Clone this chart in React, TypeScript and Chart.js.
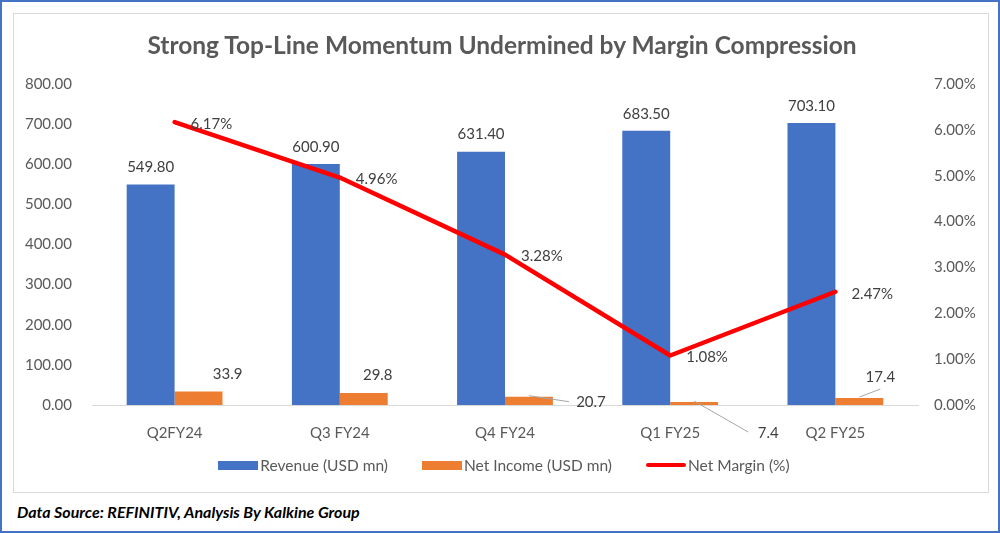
import React, { useEffect, useRef } from 'react';
import { Chart, registerables } from 'chart.js';

Chart.register(...registerables);

const categories = ['Q2FY24', 'Q3 FY24', 'Q4 FY24', 'Q1 FY25', 'Q2 FY25'];
const revenue = [549.8, 600.9, 631.4, 683.5, 703.1];
const netIncome = [33.9, 29.8, 20.7, 7.4, 17.4];
const netMargin = [6.17, 4.96, 3.28, 1.08, 2.47];

const leftMax = 800;
const leftStep = 100;
const rightMax = 7;
const rightStep = 1;

const titleText = 'Strong Top-Line Momentum Undermined by Margin Compression';
const footerText = 'Data Source: REFINITIV, Analysis By Kalkine Group';
const seriesNames = ['Revenue (USD mn)', 'Net Income (USD mn)', 'Net Margin (%)'];

// label placement for net income labels (offset of label centre from bar top centre, optional leader end relative to label centre)
const niLabelPlacement = [
  { dx: 29, dy: -17, leader: null as null | [number, number] },
  { dx: 14, dy: -18, leader: null as null | [number, number] },
  { dx: 62, dy: 5, leader: [-22, 0] as [number, number] },
  { dx: 74, dy: 31, leader: [-20, -1] as [number, number] },
  { dx: 21, dy: -21, leader: [0, 12] as [number, number] },
];

const FONT = 'Lato, "Open Sans", "Noto Sans", sans-serif';
const BLUE = '#4472C4';
const ORANGE = '#ED7D31';
const RED = '#FF0000';
const AXIS_TEXT = '#595959';
const LABEL_TEXT = '#404040';

const labelPlugin = {
  id: 'valueLabels',
  afterDatasetsDraw(chart: any) {
    const ctx = chart.ctx;
    ctx.save();
    ctx.font = `15px ${FONT}`;
    ctx.fillStyle = LABEL_TEXT;
    ctx.textAlign = 'center';
    ctx.textBaseline = 'middle';

    const revMeta = chart.getDatasetMeta(0);
    revMeta.data.forEach((el: any, i: number) => {
      ctx.fillText(revenue[i].toFixed(2), el.x, el.y - 17);
    });

    const niMeta = chart.getDatasetMeta(1);
    niMeta.data.forEach((el: any, i: number) => {
      const p = niLabelPlacement[i];
      const lx = el.x + p.dx;
      const ly = el.y + p.dy;
      if (p.leader) {
        ctx.strokeStyle = '#A6A6A6';
        ctx.lineWidth = 1;
        ctx.beginPath();
        ctx.moveTo(el.x, el.y - 1);
        ctx.lineTo(lx + p.leader[0], ly + p.leader[1]);
        ctx.stroke();
      }
      ctx.fillText(netIncome[i].toFixed(1), lx, ly);
    });

    const nmMeta = chart.getDatasetMeta(2);
    ctx.textAlign = 'left';
    nmMeta.data.forEach((el: any, i: number) => {
      ctx.fillText(netMargin[i].toFixed(2) + '%', el.x + 16, el.y + 2);
    });
    ctx.restore();
  },
};

function ChartCanvas() {
  const ref = useRef<HTMLCanvasElement | null>(null);
  useEffect(() => {
    if (!ref.current) return;
    const tickFont = { family: FONT, size: 15 };
    const chart = new Chart(ref.current, {
      type: 'bar',
      data: {
        labels: categories,
        datasets: [
          {
            type: 'bar',
            label: seriesNames[0],
            data: revenue,
            backgroundColor: BLUE,
            yAxisID: 'y',
            order: 2,
            categoryPercentage: 0.58,
            barPercentage: 1,
          },
          {
            type: 'bar',
            label: seriesNames[1],
            data: netIncome,
            backgroundColor: ORANGE,
            yAxisID: 'y',
            order: 2,
            categoryPercentage: 0.58,
            barPercentage: 1,
          },
          {
            type: 'line',
            label: seriesNames[2],
            data: netMargin,
            borderColor: RED,
            backgroundColor: RED,
            borderWidth: 4.5,
            pointRadius: 0,
            tension: 0,
            borderCapStyle: 'round',
            borderJoinStyle: 'round',
            yAxisID: 'y1',
            order: 1,
          },
        ] as any,
      },
      options: {
        responsive: true,
        maintainAspectRatio: false,
        animation: false,
        layout: { padding: { top: 70, bottom: 47, left: 0, right: 0 } },
        plugins: {
          legend: { display: false },
          title: { display: false },
          tooltip: { enabled: false },
        },
        scales: {
          x: {
            grid: { display: false, drawTicks: false },
            border: { display: true, color: '#D9D9D9', width: 1 },
            ticks: { font: tickFont, color: AXIS_TEXT, padding: 19 },
            afterFit(s: any) {
              s.height = 40;
            },
          },
          y: {
            position: 'left',
            min: 0,
            max: leftMax,
            grid: { display: false, drawTicks: false },
            border: { display: false },
            ticks: {
              stepSize: leftStep,
              font: tickFont,
              color: AXIS_TEXT,
              padding: 20,
              callback: (v: any) => Number(v).toFixed(2),
            },
            afterFit(s: any) {
              s.width = 78;
            },
          },
          y1: {
            position: 'right',
            min: 0,
            max: rightMax,
            grid: { display: false, drawTicks: false },
            border: { display: false },
            ticks: {
              stepSize: rightStep,
              font: tickFont,
              color: AXIS_TEXT,
              padding: 16,
              callback: (v: any) => Number(v).toFixed(2) + '%',
            },
            afterFit(s: any) {
              s.width = 70;
            },
          },
        },
      } as any,
      plugins: [labelPlugin],
    });
    return () => chart.destroy();
  }, []);
  return <canvas ref={ref} />;
}

function LegendItem({ kind, color, text }: { kind: 'box' | 'line'; color: string; text: string }) {
  return (
    <div style={{ display: 'flex', alignItems: 'center' }}>
      {kind === 'box' ? (
        <span style={{ display: 'inline-block', width: 40, height: 9, background: color, marginRight: 2 }} />
      ) : (
        <span style={{ display: 'inline-block', width: 40, height: 4, background: color, borderRadius: 2, marginRight: 2 }} />
      )}
      <span>{text}</span>
    </div>
  );
}

export default function App() {
  return (
    <div
      style={{
        position: 'absolute',
        left: 0,
        top: 0,
        width: 1000,
        height: 533,
        boxSizing: 'border-box',
        border: `2px solid ${BLUE}`,
        background: '#fff',
        fontFamily: FONT,
      }}
    >
      <div
        style={{
          position: 'absolute',
          left: 11,
          top: 11,
          width: 976,
          height: 480,
          boxSizing: 'border-box',
          border: '1px solid #D9D9D9',
        }}
      >
        <div style={{ position: 'absolute', left: 0, top: 0, width: 974, height: 478 }}>
          <ChartCanvas />
        </div>
        <div
          style={{
            position: 'absolute',
            left: 0,
            top: 16,
            width: 976,
            textAlign: 'center',
            fontSize: 24.5,
            lineHeight: '30px',
            fontWeight: 700,
            color: AXIS_TEXT,
          }}
        >
          {titleText}
        </div>
        <div
          style={{
            position: 'absolute',
            left: 0,
            top: 441,
            width: 974,
            height: 20,
            display: 'flex',
            justifyContent: 'center',
            alignItems: 'center',
            gap: 34,
            fontSize: 15.5,
            color: AXIS_TEXT,
            paddingLeft: 6,
            boxSizing: 'border-box',
          }}
        >
          <LegendItem kind="box" color={BLUE} text={seriesNames[0]} />
          <LegendItem kind="box" color={ORANGE} text={seriesNames[1]} />
          <LegendItem kind="line" color={RED} text={seriesNames[2]} />
        </div>
      </div>
      <div
        style={{
          position: 'absolute',
          left: 15,
          top: 500,
          fontSize: 16,
          lineHeight: '20px',
          fontWeight: 700,
          fontStyle: 'italic',
          color: '#000',
        }}
      >
        {footerText}
      </div>
    </div>
  );
}
